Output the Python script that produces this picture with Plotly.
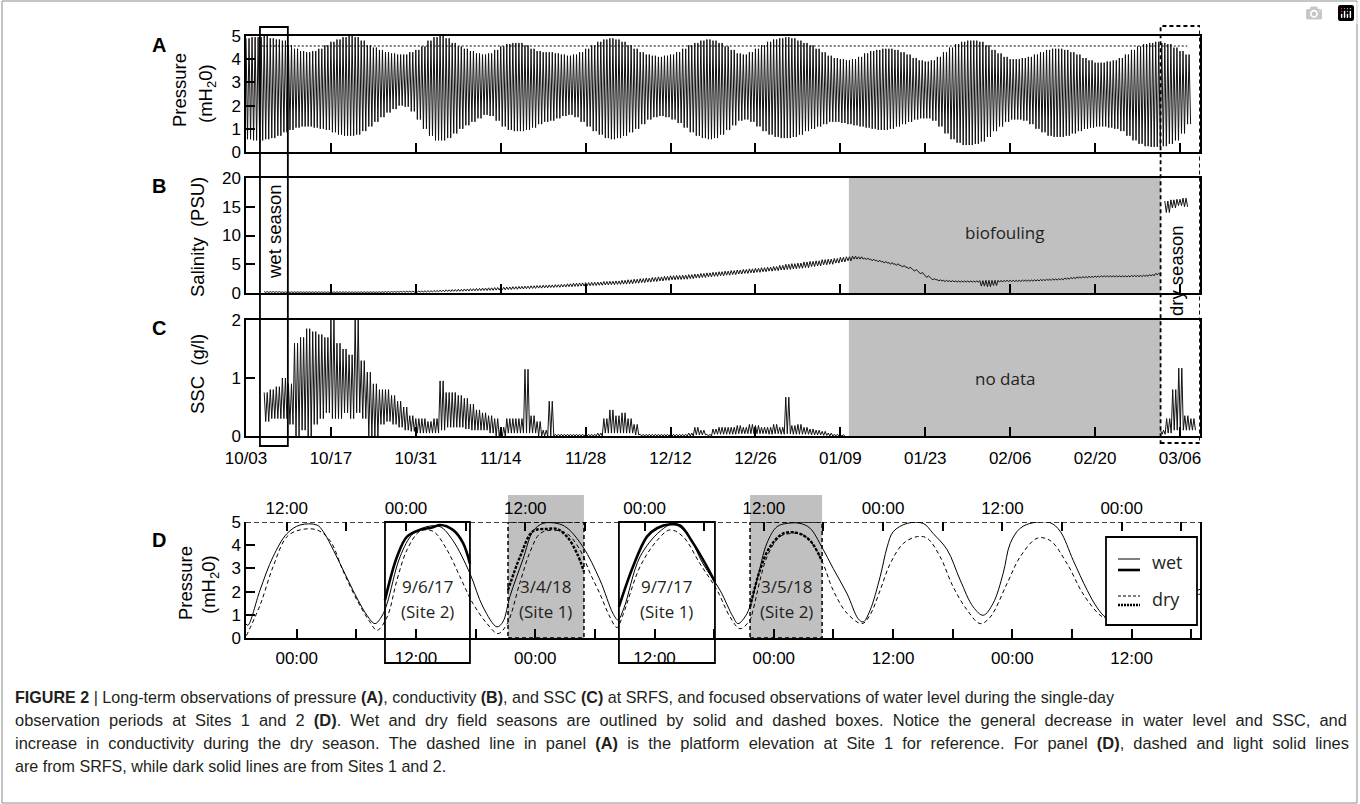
import plotly.graph_objects as go

W, H = 1360, 804


def fx(px):
    return px / W


def fy(py):
    return 1 - py / H


# ---------------------------------------------------------------- data
# panels A-C : days since 10/03
date_tick_days = [0, 14, 28, 42, 56, 70, 84, 98, 112, 126, 140, 154]
date_tick_labels = ["10/03", "10/17", "10/31", "11/14", "11/28", "12/12",
                    "12/26", "01/09", "01/23", "02/06", "02/20", "03/06"]

# daily high / low water pressure (mH2O)
pressure_high = [
    4.9, 4.95, 4.95, 5.0, 4.9, 4.85, 4.8, 4.6, 4.45, 4.35,
    4.3, 4.35, 4.45, 4.6, 4.75, 4.85, 4.95, 5.0, 4.95, 4.8,
    4.6, 4.5, 4.4, 4.3, 4.25, 4.2, 4.2, 4.3, 4.4, 4.55,
    4.8, 4.95, 5.0, 4.9, 4.7, 4.55, 4.45, 4.35, 4.25, 4.2,
    4.25, 4.4, 4.55, 4.65, 4.7, 4.7, 4.6, 4.45, 4.35, 4.3,
    4.3, 4.25, 4.2, 4.15, 4.2, 4.3, 4.45, 4.6, 4.75, 4.85,
    4.9, 4.85, 4.75, 4.6, 4.45, 4.3, 4.2, 4.15, 4.1, 4.15,
    4.2, 4.3, 4.45, 4.6, 4.7, 4.8, 4.85, 4.8, 4.7, 4.55,
    4.4, 4.25, 4.2, 4.3, 4.45, 4.6, 4.75, 4.85, 4.9, 4.95,
    4.9, 4.8, 4.7, 4.6, 4.45, 4.3, 4.15, 4.05, 4.0, 3.95,
    4.0, 4.1, 4.25, 4.35, 4.4, 4.45, 4.45, 4.4, 4.3, 4.2,
    4.05, 3.95, 3.9, 3.95, 4.1, 4.3, 4.5, 4.65, 4.75, 4.8,
    4.8, 4.75, 4.6, 4.4, 4.25, 4.1, 4.0, 4.0, 4.05, 4.1,
    4.2, 4.3, 4.4, 4.45, 4.45, 4.4, 4.3, 4.2, 4.05, 3.95,
    3.85, 3.85, 3.9, 3.95, 4.05, 4.2, 4.4, 4.55, 4.65, 4.7,
    4.75, 4.7, 4.65, 4.5, 4.35, 4.2]
pressure_low = [
    0.55, 0.5, 0.5, 0.55, 0.6, 0.7, 0.85, 0.95, 1.05, 1.1,
    1.1, 1.05, 1.0, 0.95, 0.85, 0.75, 0.7, 0.7, 0.75, 0.9,
    1.1, 1.3, 1.5, 1.7, 1.85, 2.0, 1.95, 1.75, 1.4, 1.0,
    0.7, 0.5, 0.5, 0.6, 0.8, 1.0, 1.15, 1.3, 1.45, 1.6,
    1.55, 1.35, 1.1, 0.95, 0.9, 0.9, 0.95, 1.05, 1.2, 1.3,
    1.35, 1.45, 1.55, 1.6, 1.5, 1.3, 1.1, 0.9, 0.75, 0.6,
    0.55, 0.6, 0.7, 0.85, 1.0, 1.2, 1.4, 1.5, 1.55, 1.5,
    1.4, 1.25, 1.05, 0.85, 0.7, 0.6, 0.55, 0.6, 0.75, 0.95,
    1.15, 1.35, 1.4, 1.3, 1.1, 0.9, 0.75, 0.65, 0.6, 0.6,
    0.65, 0.75, 0.9, 1.0, 1.1, 1.2, 1.3, 1.3, 1.25, 1.2,
    1.15, 1.1, 1.05, 1.0, 0.95, 0.95, 1.0, 1.1, 1.2, 1.3,
    1.4, 1.45, 1.45, 1.35, 1.1, 0.8, 0.55, 0.4, 0.3, 0.3,
    0.35, 0.45, 0.65, 0.9, 1.1, 1.3, 1.4, 1.4, 1.35, 1.2,
    1.0, 0.85, 0.7, 0.65, 0.65, 0.7, 0.8, 0.9, 1.0, 1.05,
    1.1, 1.1, 1.05, 1.0, 0.9, 0.7, 0.5, 0.35, 0.25, 0.22,
    0.22, 0.25, 0.35, 0.5, 0.8, 1.2]
platform_elevation = 4.57
platform_days = [2.6, 155.2]

# daily high / low salinity (PSU), wet period from 10/03
salinity_high = [
    None, None, None,
    0.25, 0.25, 0.25, 0.2, 0.2, 0.2, 0.2,
    0.2, 0.2, 0.2, 0.2, 0.2, 0.2, 0.2, 0.2, 0.2, 0.2,
    0.2, 0.2, 0.22, 0.24, 0.26, 0.28, 0.3, 0.32, 0.34, 0.36,
    0.4, 0.45, 0.5, 0.55, 0.6, 0.65, 0.7, 0.75, 0.8, 0.85,
    0.9, 0.95, 1.0, 1.05, 1.1, 1.15, 1.2, 1.25, 1.3, 1.35,
    1.4, 1.45, 1.5, 1.6, 1.7, 1.75, 1.8, 1.85, 1.9, 2.0,
    2.05, 2.1, 2.2, 2.3, 2.4, 2.5, 2.6, 2.7, 2.8, 2.9,
    3.0, 3.05, 3.1, 3.2, 3.3, 3.4, 3.5, 3.6, 3.7, 3.8,
    3.9, 4.0, 4.1, 4.2, 4.3, 4.4, 4.5, 4.6, 4.8, 5.0,
    5.1, 5.2, 5.4, 5.5, 5.6, 5.8, 5.9, 6.0, 6.2, 6.3,
    6.4, 6.3, 6.1, 5.9, 5.7, 5.5, 5.3, 5.1, 4.8, 4.5,
    4.1, 3.6, 3.0, 2.5, 2.3, 2.2, 2.15, 2.1, 2.1, 2.1,
    2.1, 2.15, 2.2, 2.2, 2.2, 2.2, 2.2, 2.2, 2.25, 2.25,
    2.3, 2.35, 2.4, 2.45, 2.5, 2.6, 2.7, 2.8, 2.85, 2.9,
    2.95, 3.0, 3.0, 3.0, 3.0, 3.0, 3.05, 3.05, 3.1, 3.2,
    3.4]
salinity_low = [
    None, None, None,
    0.1, 0.1, 0.1, 0.1, 0.1, 0.1, 0.1,
    0.1, 0.1, 0.1, 0.1, 0.1, 0.1, 0.1, 0.1, 0.1, 0.1,
    0.1, 0.1, 0.1, 0.1, 0.12, 0.13, 0.14, 0.15, 0.16, 0.17,
    0.18, 0.2, 0.22, 0.25, 0.28, 0.3, 0.33, 0.36, 0.4, 0.43,
    0.46, 0.5, 0.55, 0.6, 0.65, 0.7, 0.75, 0.8, 0.85, 0.9,
    0.95, 1.0, 1.05, 1.1, 1.15, 1.2, 1.25, 1.3, 1.35, 1.4,
    1.45, 1.5, 1.55, 1.6, 1.7, 1.8, 1.9, 2.0, 2.1, 2.2,
    2.3, 2.35, 2.4, 2.5, 2.6, 2.7, 2.8, 2.9, 3.0, 3.1,
    3.2, 3.3, 3.4, 3.5, 3.6, 3.7, 3.8, 3.9, 4.0, 4.1,
    4.2, 4.3, 4.4, 4.6, 4.7, 4.9, 5.0, 5.2, 5.4, 5.6,
    5.9, 5.9, 5.8, 5.6, 5.4, 5.2, 5.0, 4.8, 4.5, 4.2,
    3.8, 3.3, 2.7, 2.3, 2.1, 2.0, 1.95, 1.9, 1.9, 1.9,
    1.9, 1.2, 1.1, 1.3, 1.9, 2.0, 2.0, 2.0, 2.05, 2.05,
    2.1, 2.15, 2.2, 2.25, 2.3, 2.4, 2.5, 2.6, 2.65, 2.7,
    2.75, 2.8, 2.8, 2.8, 2.8, 2.8, 2.85, 2.85, 2.9, 3.0,
    3.2]
salinity_dry_start = 151.5
salinity_dry_high = [16.0, 16.2, 16.3, 16.5]
salinity_dry_low = [14.0, 14.8, 15.2, 15.0]

# daily high / low suspended sediment concentration (g/l)
ssc_high = [
    None, None, None,
    0.75, 0.8, 0.85, 1.0,
    0.9, 1.6, 1.7,
    1.85, 1.8, 1.75, 1.7, 2.0, 1.6, 1.5, 1.4, 2.0, 1.3,
    1.1, 0.9, 0.8, 0.8, 0.7, 0.6, 0.5, 0.35, 0.3, 0.3,
    0.25, 0.3, 0.95, 0.75, 0.75, 0.7, 0.65, 0.55, 0.45, 0.4,
    0.35, 0.3, 0.15, 0.3, 0.3, 0.3, 1.15, 0.35, 0.25, 0.1,
    0.6, 0.03, 0.03, 0.03, 0.03, 0.03, 0.03, 0.03, 0.05, 0.3,
    0.45, 0.35, 0.4, 0.3, 0.2, 0.03, 0.03, 0.03, 0.03, 0.03,
    0.03, 0.03, 0.03, 0.05, 0.15, 0.1, 0.03, 0.12, 0.15, 0.15,
    0.15, 0.18, 0.15, 0.2, 0.18, 0.15, 0.15, 0.2, 0.15, 0.67,
    0.18, 0.2, 0.15, 0.12, 0.1, 0.08, 0.05, 0.03, 0.02]
ssc_low = [
    None, None, None,
    0.25, 0.3, 0.3, 0.3,
    0.2, 0.0, 0.1,
    0.0, 0.2, 0.3, 0.4, 0.3, 0.3, 0.4, 0.3, 0.4, 0.3,
    0.0, 0.0, 0.2, 0.25, 0.2, 0.15, 0.1, 0.08, 0.05, 0.05,
    0.05, 0.05, 0.1, 0.15, 0.15, 0.15, 0.12, 0.1, 0.1, 0.1,
    0.05, 0.0, 0.0, 0.05, 0.05, 0.05, 0.05, 0.05, 0.0, 0.0,
    0.0, 0.0, 0.0, 0.0, 0.0, 0.0, 0.0, 0.0, 0.0, 0.05,
    0.05, 0.05, 0.05, 0.05, 0.02, 0.0, 0.0, 0.0, 0.0, 0.0,
    0.0, 0.0, 0.0, 0.0, 0.02, 0.02, 0.0, 0.03, 0.03, 0.03,
    0.03, 0.04, 0.04, 0.04, 0.04, 0.04, 0.03, 0.04, 0.03, 0.04,
    0.03, 0.03, 0.03, 0.02, 0.02, 0.01, 0.0, 0.0, 0.0]
ssc_dry_start = 150.8
ssc_dry_high = [0.1, 0.3, 0.8, 1.17, 0.35, 0.3]
ssc_dry_low = [0.03, 0.05, 0.1, 0.1, 0.1, 0.1]

wet_season_days = [2.3, 6.9]
dry_season_days = [150.8, 157.3]
sensor_gap_days = [99.4, 150.8]
day_range = [0, 157.3]

# panel D : hours from the first 00:00 of the bottom axis
d_range = [-5.10, 90.88]
bottom_label_hours = [0, 12, 24, 36, 48, 60, 72, 84]
bottom_labels = ["00:00", "12:00", "00:00", "12:00", "00:00", "12:00", "00:00", "12:00"]
bottom_minor_hours = [6, 18, 30, 42, 54, 66, 78, 90]
top_label_hours = [-1, 11, 23, 35, 47, 59, 71, 83]
top_labels = ["12:00", "00:00", "12:00", "00:00", "12:00", "00:00", "12:00", "00:00"]
top_minor_hours = [5, 17, 29, 41, 53, 65, 77, 89]

srfs_wet_hours = [-5.10, -4.90, -3.69, -2.38, -0.98, 0.34, 2.04, 2.65, 4.36, 5.66,
                  7.07, 7.88, 8.58, 9.09, 10.40, 11.70, 13.11, 14.42, 15.72, 17.43,
                  18.74, 20.15, 20.75, 21.46, 22.77, 23.77, 24.78, 26.19, 27.19, 28.80,
                  30.51, 31.82, 32.32, 32.93, 34.54, 36.55, 37.86, 39.27, 40.88, 42.59,
                  43.90, 44.40, 45.31, 46.31, 47.32, 48.33, 49.33, 50.64, 51.65, 52.86,
                  53.97, 55.38, 56.49, 56.99, 57.69, 58.70, 59.41, 60.01, 61.42, 63.03,
                  64.04, 65.45, 66.75, 68.06, 69.07, 70.07, 71.08, 71.78, 72.79, 74.10,
                  75.81, 76.81, 78.12, 79.53, 80.54, 81.34, 81.84, 84.5, 87.5, 90.88]
srfs_wet_level = [0.6, 0.55, 2.06, 3.5, 4.5, 4.87, 4.87, 4.6, 3.21, 2.06,
                  0.98, 0.62, 0.95, 1.48, 3.5, 4.5, 4.8, 4.8, 4.2, 2.78,
                  1.34, 0.48, 0.7, 1.8, 3.4, 4.6, 4.94, 4.94, 4.75, 3.93,
                  2.5, 1.06, 0.78, 1.3, 3.5, 4.6, 4.9, 4.5, 3.2, 2.06,
                  0.91, 0.62, 1.06, 2.5, 4.1, 4.8, 4.94, 4.94, 4.73, 3.9,
                  3.0, 1.9, 0.83, 0.69, 1.2, 2.64, 3.93, 4.58, 4.94, 4.94,
                  4.5, 3.8, 2.5, 1.34, 0.98, 1.5, 2.79, 4.07, 4.73, 4.97,
                  4.97, 4.6, 3.35, 2.06, 1.3, 0.91, 0.85, 1.1, 1.5, 2.1]
srfs_dry_hours = [-5.06, -3.69, -2.38, -0.98, 0.34, 2.04, 3.35, 4.66, 6.07, 7.37,
                  8.08, 9.09, 10.09, 11.10, 12.40, 13.71, 15.12, 16.43, 17.74, 19.15,
                  20.25, 21.16, 22.47, 23.47, 24.48, 25.78, 27.19, 28.50, 29.51, 30.51,
                  31.52, 32.22, 32.83, 34.54, 36.25, 37.56, 38.87, 40.58, 42.29, 43.60,
                  44.60, 45.61, 45.91, 47.32, 48.62, 49.63, 50.64, 51.65, 52.96, 53.97,
                  55.38, 56.89, 57.69, 58.70, 59.71, 61.02, 62.43, 63.43, 64.74, 66.05,
                  67.46, 68.77, 69.77, 71.48, 72.79, 74.50, 75.81, 77.51, 79.12, 80.84,
                  81.54, 84.5, 87.5, 90.88]
srfs_dry_level = [0.1, 1.41, 3.07, 4.37, 4.66, 4.66, 4.2, 2.9, 1.63, 0.69,
                  0.33, 0.9, 2.5, 3.8, 4.6, 4.6, 3.8, 2.64, 1.48, 0.62,
                  0.19, 0.6, 2.4, 3.7, 4.5, 4.65, 4.5, 3.8, 2.8, 1.9,
                  0.9, 0.45, 1.0, 3.07, 4.2, 4.66, 4.37, 3.2, 2.06, 0.91,
                  0.4, 0.78, 1.2, 3.5, 4.37, 4.5, 4.5, 4.2, 3.2, 2.06,
                  1.06, 0.62, 1.0, 2.06, 3.2, 4.07, 4.37, 4.3, 3.5, 2.2,
                  1.2, 0.62, 0.9, 2.36, 3.5, 4.3, 4.2, 3.2, 1.9, 0.98,
                  0.85, 0.9, 1.3, 1.9]
site2_wet_hours = [8.88, 10.09, 11.10, 12.40, 13.71, 14.42, 15.72, 16.73, 17.43]
site2_wet_level = [1.63, 3.5, 4.37, 4.66, 4.77, 4.87, 4.66, 4.1, 3.2]
site1_dry_hours = [21.26, 22.47, 23.77, 25.18, 26.19, 27.19, 28.20, 28.90]
site1_dry_level = [2.06, 3.5, 4.6, 4.7, 4.7, 4.37, 3.65, 2.86]
site1_wet_hours = [32.42, 33.83, 35.24, 36.25, 37.56, 38.56, 39.87, 41.28, 42.08]
site1_wet_level = [1.34, 3.07, 4.37, 4.73, 4.9, 4.85, 4.1, 3.07, 2.42]
site2_dry_hours = [45.61, 46.61, 47.62, 48.93, 50.34, 51.65, 52.86]
site2_dry_level = [1.34, 2.93, 3.93, 4.5, 4.53, 4.2, 3.3]
site_labels = [("9/6/17", "(Site 2)"), ("3/4/18", "(Site 1)"),
               ("9/7/17", "(Site 1)"), ("3/5/18", "(Site 2)")]


# ---------------------------------------------------------------- helpers
def tidal_xy(start, highs, lows):
    xs, ys = [], []
    for i, (hi, lo) in enumerate(zip(highs, lows)):
        if hi is None or lo is None:
            xs.append(None)
            ys.append(None)
            continue
        d = start + i
        xs += [d, d + 0.25, d + 0.5, d + 0.75]
        ys += [hi, lo, hi, lo]
    return xs, ys


INK = "#111111"
AX_FONT = dict(family="Arial", size=17, color="black")
TXT_FONT = dict(family="Open Sans", size=17, color="#231f20")

fig = go.Figure()

# panel A
px_, py_ = tidal_xy(0, pressure_high, pressure_low)
fig.add_trace(go.Scatter(x=px_, y=py_, mode="lines", line=dict(color=INK, width=1.0),
                         xaxis="x", yaxis="y", hoverinfo="skip"))
fig.add_trace(go.Scatter(x=platform_days, y=[platform_elevation] * len(platform_days),
                         mode="lines", line=dict(color="black", width=1.1, dash="2px,2px"),
                         xaxis="x", yaxis="y", hoverinfo="skip"))
# panel B
sx, sy = tidal_xy(0, salinity_high, salinity_low)
fig.add_trace(go.Scatter(x=sx, y=sy, mode="lines", line=dict(color=INK, width=1.0),
                         xaxis="x2", yaxis="y2", hoverinfo="skip"))
sx, sy = tidal_xy(salinity_dry_start, salinity_dry_high, salinity_dry_low)
fig.add_trace(go.Scatter(x=sx, y=sy, mode="lines", line=dict(color=INK, width=1.0),
                         xaxis="x2", yaxis="y2", hoverinfo="skip"))
# panel C
cx, cy = tidal_xy(0, ssc_high, ssc_low)
fig.add_trace(go.Scatter(x=cx, y=cy, mode="lines", line=dict(color=INK, width=1.0),
                         xaxis="x3", yaxis="y3", hoverinfo="skip"))
cx, cy = tidal_xy(ssc_dry_start, ssc_dry_high, ssc_dry_low)
fig.add_trace(go.Scatter(x=cx, y=cy, mode="lines", line=dict(color=INK, width=1.0),
                         xaxis="x3", yaxis="y3", hoverinfo="skip"))


# panel D
def d_line(xs, ys, width, dash):
    fig.add_trace(go.Scatter(x=xs, y=ys, mode="lines", line_shape="spline",
                             line=dict(color="black", width=width, dash=dash),
                             xaxis="x4", yaxis="y4", hoverinfo="skip"))


d_line(srfs_wet_hours, srfs_wet_level, 1.0, "solid")
d_line(srfs_dry_hours, srfs_dry_level, 1.0, "4px,3px")
d_line(site2_wet_hours, site2_wet_level, 2.6, "solid")
d_line(site1_wet_hours, site1_wet_level, 2.6, "solid")
d_line(site1_dry_hours, site1_dry_level, 2.4, "3px,1.5px")
d_line(site2_dry_hours, site2_dry_level, 2.4, "3px,1.5px")
# carrier for the top time axis
fig.add_trace(go.Scatter(x=[d_range[0]], y=[None], mode="lines", xaxis="x5", yaxis="y4",
                         hoverinfo="skip"))

# ---------------------------------------------------------------- axes
frame = dict(showline=True, linecolor="black", linewidth=1.5, mirror=True,
             ticks="inside", ticklen=9, tickwidth=1.5, tickcolor="black",
             showgrid=False, zeroline=False, tickfont=AX_FONT, fixedrange=True,
             automargin=False)
minor_ticks = dict(ticks="inside", ticklen=9, tickwidth=1.5, tickcolor="black", showgrid=False)
XD = [fx(246), fx(1200)]

layout_axes = dict(
    xaxis=dict(frame, domain=XD, range=day_range, tickvals=date_tick_days,
               showticklabels=False, anchor="y"),
    yaxis=dict(frame, domain=[fy(152), fy(36)], range=[0, 5],
               tickvals=[0, 1, 2, 3, 4, 5], anchor="x"),
    xaxis2=dict(frame, domain=XD, range=day_range, tickvals=date_tick_days,
                showticklabels=False, anchor="y2"),
    yaxis2=dict(frame, domain=[fy(293), fy(178)], range=[0, 20],
                tickvals=[0, 5, 10, 15, 20], anchor="x2"),
    xaxis3=dict(frame, domain=XD, range=day_range, tickvals=date_tick_days,
                ticktext=date_tick_labels, anchor="y3", ticklabelstandoff=6),
    yaxis3=dict(frame, domain=[fy(436), fy(320)], range=[0, 2],
                tickvals=[0, 1, 2], anchor="x3"),
    xaxis4=dict(frame, domain=XD, range=d_range, tickvals=bottom_label_hours,
                ticktext=bottom_labels, mirror=False, anchor="y4",
                ticklabelstandoff=4, minor=dict(minor_ticks, tickvals=bottom_minor_hours)),
    xaxis5=dict(frame, range=d_range, tickvals=top_label_hours, ticktext=top_labels,
                overlaying="x4", side="top", anchor="y4", showline=False,
                mirror=False, ticklabelstandoff=4,
                minor=dict(minor_ticks, tickvals=top_minor_hours)),
    yaxis4=dict(frame, domain=[fy(638), fy(522)], range=[0, 5],
                tickvals=[0, 1, 2, 3, 4, 5], anchor="x4"),
)

# ---------------------------------------------------------------- shapes
shapes = []
GRAY = "#c0c0c0"
for xa, ya, top in (("x2", "y2", 20), ("x3", "y3", 2)):
    shapes.append(dict(type="rect", xref=xa, yref=ya, x0=sensor_gap_days[0],
                       x1=sensor_gap_days[1], y0=0, y1=top, fillcolor=GRAY,
                       line=dict(width=0), layer="below"))
# season boxes spanning panels A-C
shapes.append(dict(type="rect", xref="x", yref="paper", x0=wet_season_days[0],
                   x1=wet_season_days[1], y0=fy(446), y1=fy(27),
                   line=dict(color="black", width=1.8), layer="above"))
shapes.append(dict(type="rect", xref="x", yref="paper", x0=dry_season_days[0],
                   x1=dry_season_days[1], y0=fy(443), y1=fy(26),
                   line=dict(color="black", width=1.8, dash="4px,3px"), layer="above"))

# panel D boxes
for hrs in (site1_dry_hours, site2_dry_hours):
    shapes.append(dict(type="rect", xref="x4", yref="paper", x0=min(hrs), x1=max(hrs),
                       y0=fy(638), y1=fy(495), fillcolor=GRAY, line=dict(width=0),
                       layer="below"))
# dashed top reference line (5 m)
shapes.append(dict(type="line", xref="x4", yref="y4", x0=d_range[0], x1=d_range[1],
                   y0=5, y1=5, line=dict(color="black", width=1.5, dash="5px,3px")))
for hrs in (site1_dry_hours, site2_dry_hours):
    shapes.append(dict(type="rect", xref="x4", yref="y4", x0=min(hrs), x1=max(hrs),
                       y0=0, y1=5, line=dict(color="black", width=1.5, dash="4px,3px"),
                       layer="above"))
for hrs in (site2_wet_hours, site1_wet_hours):
    shapes.append(dict(type="rect", xref="x4", yref="paper", x0=min(hrs), x1=max(hrs),
                       y0=fy(663), y1=fy(522), line=dict(color="black", width=1.8),
                       layer="above"))

# legend box of panel D
shapes.append(dict(type="rect", xref="paper", yref="paper", x0=fx(1106), x1=fx(1197),
                   y0=fy(625), y1=fy(537), fillcolor="white",
                   line=dict(color="black", width=1.8), layer="above"))
for yy, wdt, dsh in ((559, 1.0, "solid"), (570, 2.6, "solid"),
                     (596, 1.0, "3px,2px"), (605, 2.4, "2px,1px")):
    shapes.append(dict(type="line", xref="paper", yref="paper", x0=fx(1118), x1=fx(1140),
                       y0=fy(yy), y1=fy(yy), line=dict(color="black", width=wdt, dash=dsh),
                       layer="above"))

# figure border
shapes.append(dict(type="rect", xref="paper", yref="paper", x0=fx(2), x1=fx(1357),
                   y0=fy(803), y1=fy(1), line=dict(color="#8c8c8c", width=1)))

# ---------------------------------------------------------------- text
ann = []


def txt(x, y, s, font, angle=0, xanchor="center", yanchor="middle", xref="paper", yref="paper"):
    ann.append(dict(x=x, y=y, xref=xref, yref=yref, text=s, showarrow=False,
                    font=font, textangle=angle, xanchor=xanchor, yanchor=yanchor))


LBL = dict(family="Arial", size=20, color="black")
for s, yy in (("A", 45), ("B", 186), ("C", 328), ("D", 540)):
    txt(fx(159), fy(yy), "<b>%s</b>" % s, LBL)

TITLE = dict(family="Arial", size=18.5, color="black")
txt(fx(180), fy(90), "Pressure", TITLE, -90)
txt(fx(207), fy(93), "(mH<sub>2</sub>0)", TITLE, -90)
txt(fx(197), fy(237), "Salinity  (PSU)", TITLE, -90)
txt(fx(197), fy(374), "SSC  (g/l)", TITLE, -90)
txt(fx(185), fy(583), "Pressure", TITLE, -90)
txt(fx(210), fy(585), "(mH<sub>2</sub>0)", TITLE, -90)

txt(fx(274), fy(232), "wet season", TITLE, -90)
txt(fx(1176), fy(271), "dry season", TITLE, -90)
mid_gap = (sensor_gap_days[0] + sensor_gap_days[1]) / 2
txt(mid_gap, 10.5, "biofouling", TXT_FONT, xref="x2", yref="y2")
txt(mid_gap, 1.0, "no data", TXT_FONT, xref="x3", yref="y3")

for hrs, (d, s) in zip((site2_wet_hours, site1_dry_hours, site1_wet_hours, site2_dry_hours),
                       site_labels):
    xm = (min(hrs) + max(hrs)) / 2
    txt(xm, 2.21, d, TXT_FONT, xref="x4", yref="y4")
    txt(xm, 1.13, s, TXT_FONT, xref="x4", yref="y4")

LEG = dict(family="Open Sans", size=18, color="#231f20")
txt(fx(1150), fy(562), "wet", LEG, xanchor="left")
txt(fx(1150), fy(599), "dry", LEG, xanchor="left")

caption_lines = [
    ("<b>FIGURE 2</b> | Long-term observations of pressure <b>(A)</b>, conductivity <b>(B)</b>, "
     "and SSC <b>(C)</b> at SRFS, and focused observations of water level during the single-day", False),
    ("observation periods at Sites 1 and 2 <b>(D)</b>. Wet and dry field seasons are outlined by "
     "solid and dashed boxes. Notice the general decrease in water level and SSC, and", True),
    ("increase in conductivity during the dry season. The dashed line in panel <b>(A)</b> is the "
     "platform elevation at Site 1 for reference. For panel <b>(D)</b>, dashed and light solid lines", True),
    ("are from SRFS, while dark solid lines are from Sites 1 and 2.", False),
]
for i, (line, justify) in enumerate(caption_lines):
    if justify:
        line = line.replace(" ", " \u00a0")
        cap = dict(family="Arial", size=16.45, color="#231f20")
    else:
        cap = dict(family="Arial", size=16.1, color="#231f20")
    txt(fx(13), fy(697 + 23 * i), line, cap, xanchor="left")

fig.update_layout(
    width=W, height=H, margin=dict(l=0, r=0, t=0, b=0, autoexpand=False),
    paper_bgcolor="white", plot_bgcolor="rgba(0,0,0,0)",
    showlegend=False, shapes=shapes, annotations=ann,
    font=dict(family="Arial", color="black"),
    **layout_axes,
)

fig.write_html("out.html", post_script="document.body.style.margin='0px';")
